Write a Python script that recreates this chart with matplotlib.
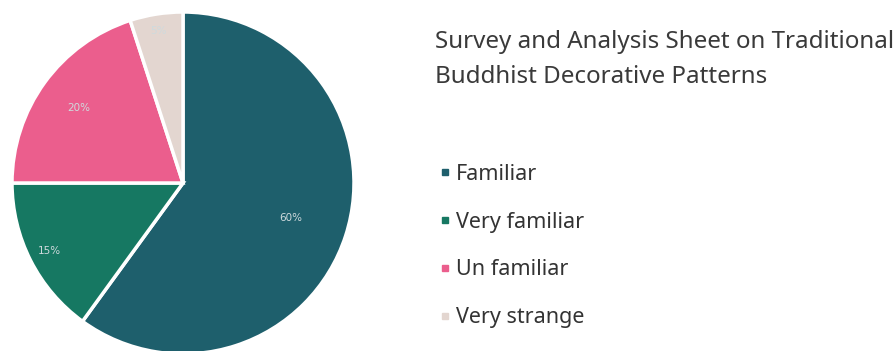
import numpy as np
import matplotlib.pyplot as plt
from matplotlib.lines import Line2D

labels = ["Familiar", "Very familiar", "Un familiar", "Very strange"]
shares = [60, 15, 20, 5]
colors = ["#1e5f6c", "#167862", "#eb5e8d", "#e3d6d0"]
label_dist = [0.66, 0.88, 0.75, 0.9]

plt.rcParams['font.family'] = ['Noto Sans', 'DejaVu Sans']

fig = plt.figure(figsize=(8.96, 3.51), dpi=100)

# pie axes: centre ~ (183, 183) px, radius ~171 px
W, H = 896, 351
cx, cy, r = 183, 183, 171
ax = fig.add_axes([(cx - r) / W, (H - cy - r) / H, 2 * r / W, 2 * r / H])
wedges, texts, autotexts = ax.pie(
    shares, colors=colors, startangle=90, counterclock=False,
    autopct='%d%%', pctdistance=0.7, radius=1,
    wedgeprops=dict(edgecolor='white', linewidth=2.5),
    textprops=dict(color='#cfdadd', fontsize=7.5,
                   family=['Liberation Sans Narrow', 'DejaVu Sans']))
# move each percentage label along its own radius
for w, t, d in zip(wedges, autotexts, label_dist):
    ang = np.deg2rad((w.theta1 + w.theta2) / 2)
    t.set_position((d * np.cos(ang), d * np.sin(ang)))
ax.set_xlim(-1, 1)
ax.set_ylim(-1, 1)
ax.set_aspect('equal')
ax.axis('off')

fig.text(435 / W, 1 - 83 / H, "Survey and Analysis Sheet on Traditional\nBuddhist Decorative Patterns",
         fontsize=17.4, color='#3a3a3a', va='baseline', ha='left', linespacing=1.62)

handles = [Line2D([], [], marker='s', linestyle='none', markersize=4,
                  markerfacecolor=c, markeredgecolor=c) for c in colors]
fig.legend(handles, labels, loc='upper left', bbox_to_anchor=(439 / W, 1 - 164 / H),
           frameon=False, fontsize=15.5, labelcolor='#333333', handlelength=0.6,
           handletextpad=0.2, labelspacing=1.24, borderpad=0, borderaxespad=0)

fig.savefig('out.png', dpi=100, facecolor='white')
